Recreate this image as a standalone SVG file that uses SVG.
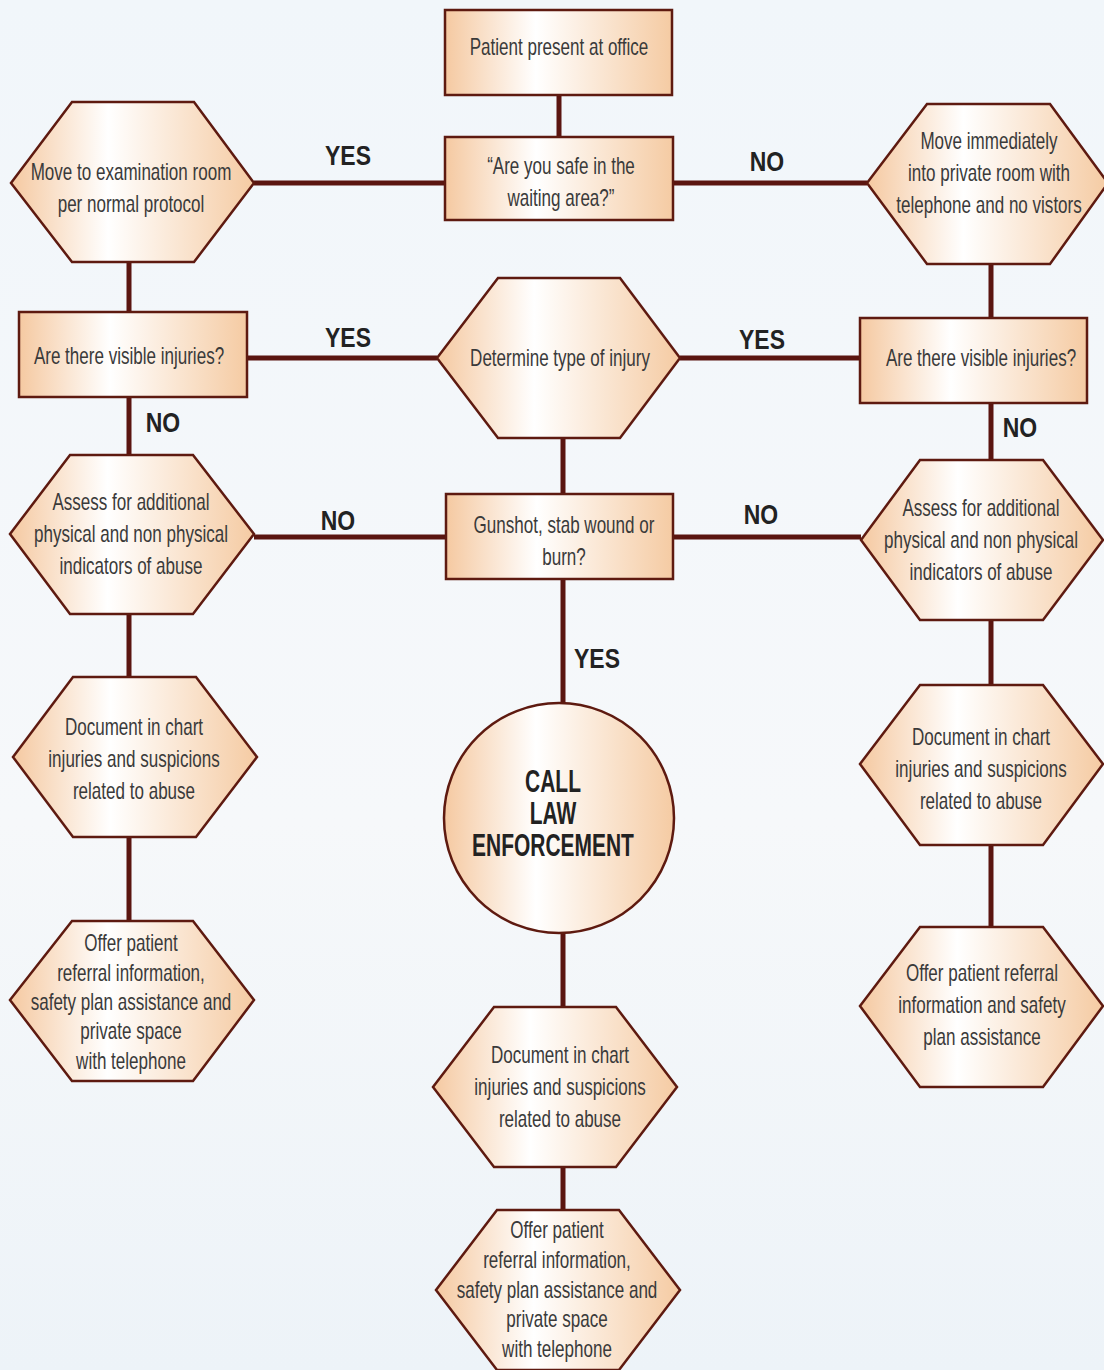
<svg xmlns="http://www.w3.org/2000/svg" width="1104" height="1370" viewBox="0 0 1104 1370">
<defs>
<linearGradient id="bg" x1="0" y1="0" x2="0" y2="1">
<stop offset="0" stop-color="#f1f6fa"/>
<stop offset="0.6" stop-color="#f6f8fa"/>
<stop offset="1" stop-color="#edf3f8"/>
</linearGradient>
<linearGradient id="nf" x1="0" y1="0" x2="1" y2="0">
<stop offset="0" stop-color="#f5c9a1"/>
<stop offset="0.4" stop-color="#ffffff"/>
<stop offset="1" stop-color="#f5cba3"/>
</linearGradient>
</defs>
<style>
.n{fill:url(#nf);stroke:#5e1a10;stroke-width:2.5;stroke-linejoin:miter}
.c{stroke:#5a1510;stroke-width:5;fill:none}
.t{font-family:"Liberation Sans",Arial,sans-serif;font-size:24px;fill:#3a3a3a;text-anchor:middle}
.b{font-family:"Liberation Sans",Arial,sans-serif;font-weight:bold;font-size:32px;fill:#222;text-anchor:middle}
.l{font-family:"Liberation Sans",Arial,sans-serif;font-weight:bold;font-size:28px;fill:#222;text-anchor:middle}
</style>
<rect width="1104" height="1370" fill="url(#bg)"/>
<g id="connectors">
<path class="c" d="M559 95V137"/>
<path class="c" d="M254 183H445M673 183H867"/>
<path class="c" d="M129 262V312M991 265V318"/>
<path class="c" d="M247 358H437M680 358H860"/>
<path class="c" d="M129 397V455M991 403V460M563 438V494"/>
<path class="c" d="M254 537H446M673 537H861"/>
<path class="c" d="M563 579V703"/>
<path class="c" d="M129 614V677M129 837V921"/>
<path class="c" d="M991 620V685M991 845V927"/>
<path class="c" d="M563 933V1007M563 1167V1210"/>
</g>
<g id="labels">
<text class="l" transform="matrix(0.82,0,0,1,348,165)">YES</text>
<text class="l" transform="matrix(0.82,0,0,1,767,171)">NO</text>
<text class="l" transform="matrix(0.82,0,0,1,348,347)">YES</text>
<text class="l" transform="matrix(0.82,0,0,1,762,349)">YES</text>
<text class="l" transform="matrix(0.82,0,0,1,163,432)">NO</text>
<text class="l" transform="matrix(0.82,0,0,1,1020,437)">NO</text>
<text class="l" transform="matrix(0.82,0,0,1,338,530)">NO</text>
<text class="l" transform="matrix(0.82,0,0,1,761,524)">NO</text>
<text class="l" transform="matrix(0.82,0,0,1,597,668)">YES</text>
</g>
<g id="n1"><rect class="n" x="445" y="10" width="227" height="85"/>
<g transform="matrix(0.71,0,0,1,559,0)"><text class="t" x="0" y="55">Patient present at office</text></g></g>
<g id="n2"><rect class="n" x="445" y="137" width="228" height="83"/>
<g transform="matrix(0.71,0,0,1,561,0)"><text class="t" x="0" y="174">“Are you safe in the</text><text class="t" x="0" y="206">waiting area?”</text></g></g>
<g id="n3"><polygon class="n" points="11,183 72,102 194,102 254,183 194,262 72,262"/>
<g transform="matrix(0.71,0,0,1,131,0)"><text class="t" x="0" y="180">Move to examination room</text><text class="t" x="0" y="212">per normal protocol</text></g></g>
<g id="n4"><polygon class="n" points="867,183 927,104 1050,104 1108,183 1050,264 927,264"/>
<g transform="matrix(0.71,0,0,1,989,0)"><text class="t" x="0" y="149">Move immediately</text><text class="t" x="0" y="181">into private room with</text><text class="t" x="0" y="213">telephone and no vistors</text></g></g>
<g id="n5"><rect class="n" x="19" y="312" width="228" height="85"/>
<g transform="matrix(0.71,0,0,1,129,0)"><text class="t" x="0" y="364">Are there visible injuries?</text></g></g>
<g id="n6"><polygon class="n" points="437,358 498,278 620,278 680,358 620,438 498,438"/>
<g transform="matrix(0.71,0,0,1,560,0)"><text class="t" x="0" y="366">Determine type of injury</text></g></g>
<g id="n7"><rect class="n" x="860" y="318" width="227" height="85"/>
<g transform="matrix(0.71,0,0,1,981,0)"><text class="t" x="0" y="366">Are there visible injuries?</text></g></g>
<g id="n8"><polygon class="n" points="10,534 70,455 193,455 254,534 193,614 70,614"/>
<g transform="matrix(0.71,0,0,1,131,0)"><text class="t" x="0" y="510">Assess for additional</text><text class="t" x="0" y="542">physical and non physical</text><text class="t" x="0" y="574">indicators of abuse</text></g></g>
<g id="n9"><rect class="n" x="446" y="494" width="227" height="85"/>
<g transform="matrix(0.71,0,0,1,564,0)"><text class="t" x="0" y="533">Gunshot, stab wound or</text><text class="t" x="0" y="565">burn?</text></g></g>
<g id="n10"><polygon class="n" points="861,540 920,460 1043,460 1103,540 1043,620 920,620"/>
<g transform="matrix(0.71,0,0,1,981,0)"><text class="t" x="0" y="516">Assess for additional</text><text class="t" x="0" y="548">physical and non physical</text><text class="t" x="0" y="580">indicators of abuse</text></g></g>
<g id="n11"><polygon class="n" points="13,757 73,677 196,677 257,757 196,837 73,837"/>
<g transform="matrix(0.71,0,0,1,134,0)"><text class="t" x="0" y="735">Document in chart</text><text class="t" x="0" y="767">injuries and suspicions</text><text class="t" x="0" y="799">related to abuse</text></g></g>
<g id="n12"><circle cx="559" cy="818" r="115" fill="url(#nf)" stroke="#5e1a10" stroke-width="2.5"/>
<g transform="matrix(0.655,0,0,1,553,0)"><text class="b" x="0" y="792">CALL</text><text class="b" x="0" y="824">LAW</text><text class="b" x="0" y="856">ENFORCEMENT</text></g></g>
<g id="n13"><polygon class="n" points="860,764 920,685 1043,685 1103,764 1043,845 920,845"/>
<g transform="matrix(0.71,0,0,1,981,0)"><text class="t" x="0" y="745">Document in chart</text><text class="t" x="0" y="777">injuries and suspicions</text><text class="t" x="0" y="809">related to abuse</text></g></g>
<g id="n14"><polygon class="n" points="10,1000 72,921 193,921 254,1000 193,1081 72,1081"/>
<g transform="matrix(0.71,0,0,1,131,0)"><text class="t" x="0" y="951">Offer patient</text><text class="t" x="0" y="981">referral information,</text><text class="t" x="0" y="1010">safety plan assistance and</text><text class="t" x="0" y="1039">private space</text><text class="t" x="0" y="1069">with telephone</text></g></g>
<g id="n15"><polygon class="n" points="860,1006 920,927 1043,927 1103,1006 1043,1087 920,1087"/>
<g transform="matrix(0.71,0,0,1,982,0)"><text class="t" x="0" y="981">Offer patient referral</text><text class="t" x="0" y="1013">information and safety</text><text class="t" x="0" y="1045">plan assistance</text></g></g>
<g id="n16"><polygon class="n" points="433,1087 494,1007 616,1007 677,1087 616,1167 494,1167"/>
<g transform="matrix(0.71,0,0,1,560,0)"><text class="t" x="0" y="1063">Document in chart</text><text class="t" x="0" y="1095">injuries and suspicions</text><text class="t" x="0" y="1127">related to abuse</text></g></g>
<g id="n17"><polygon class="n" points="436,1290 497,1210 619,1210 680,1290 619,1370 497,1370"/>
<g transform="matrix(0.71,0,0,1,557,0)"><text class="t" x="0" y="1238">Offer patient</text><text class="t" x="0" y="1268">referral information,</text><text class="t" x="0" y="1298">safety plan assistance and</text><text class="t" x="0" y="1327">private space</text><text class="t" x="0" y="1357">with telephone</text></g></g>
</svg>
